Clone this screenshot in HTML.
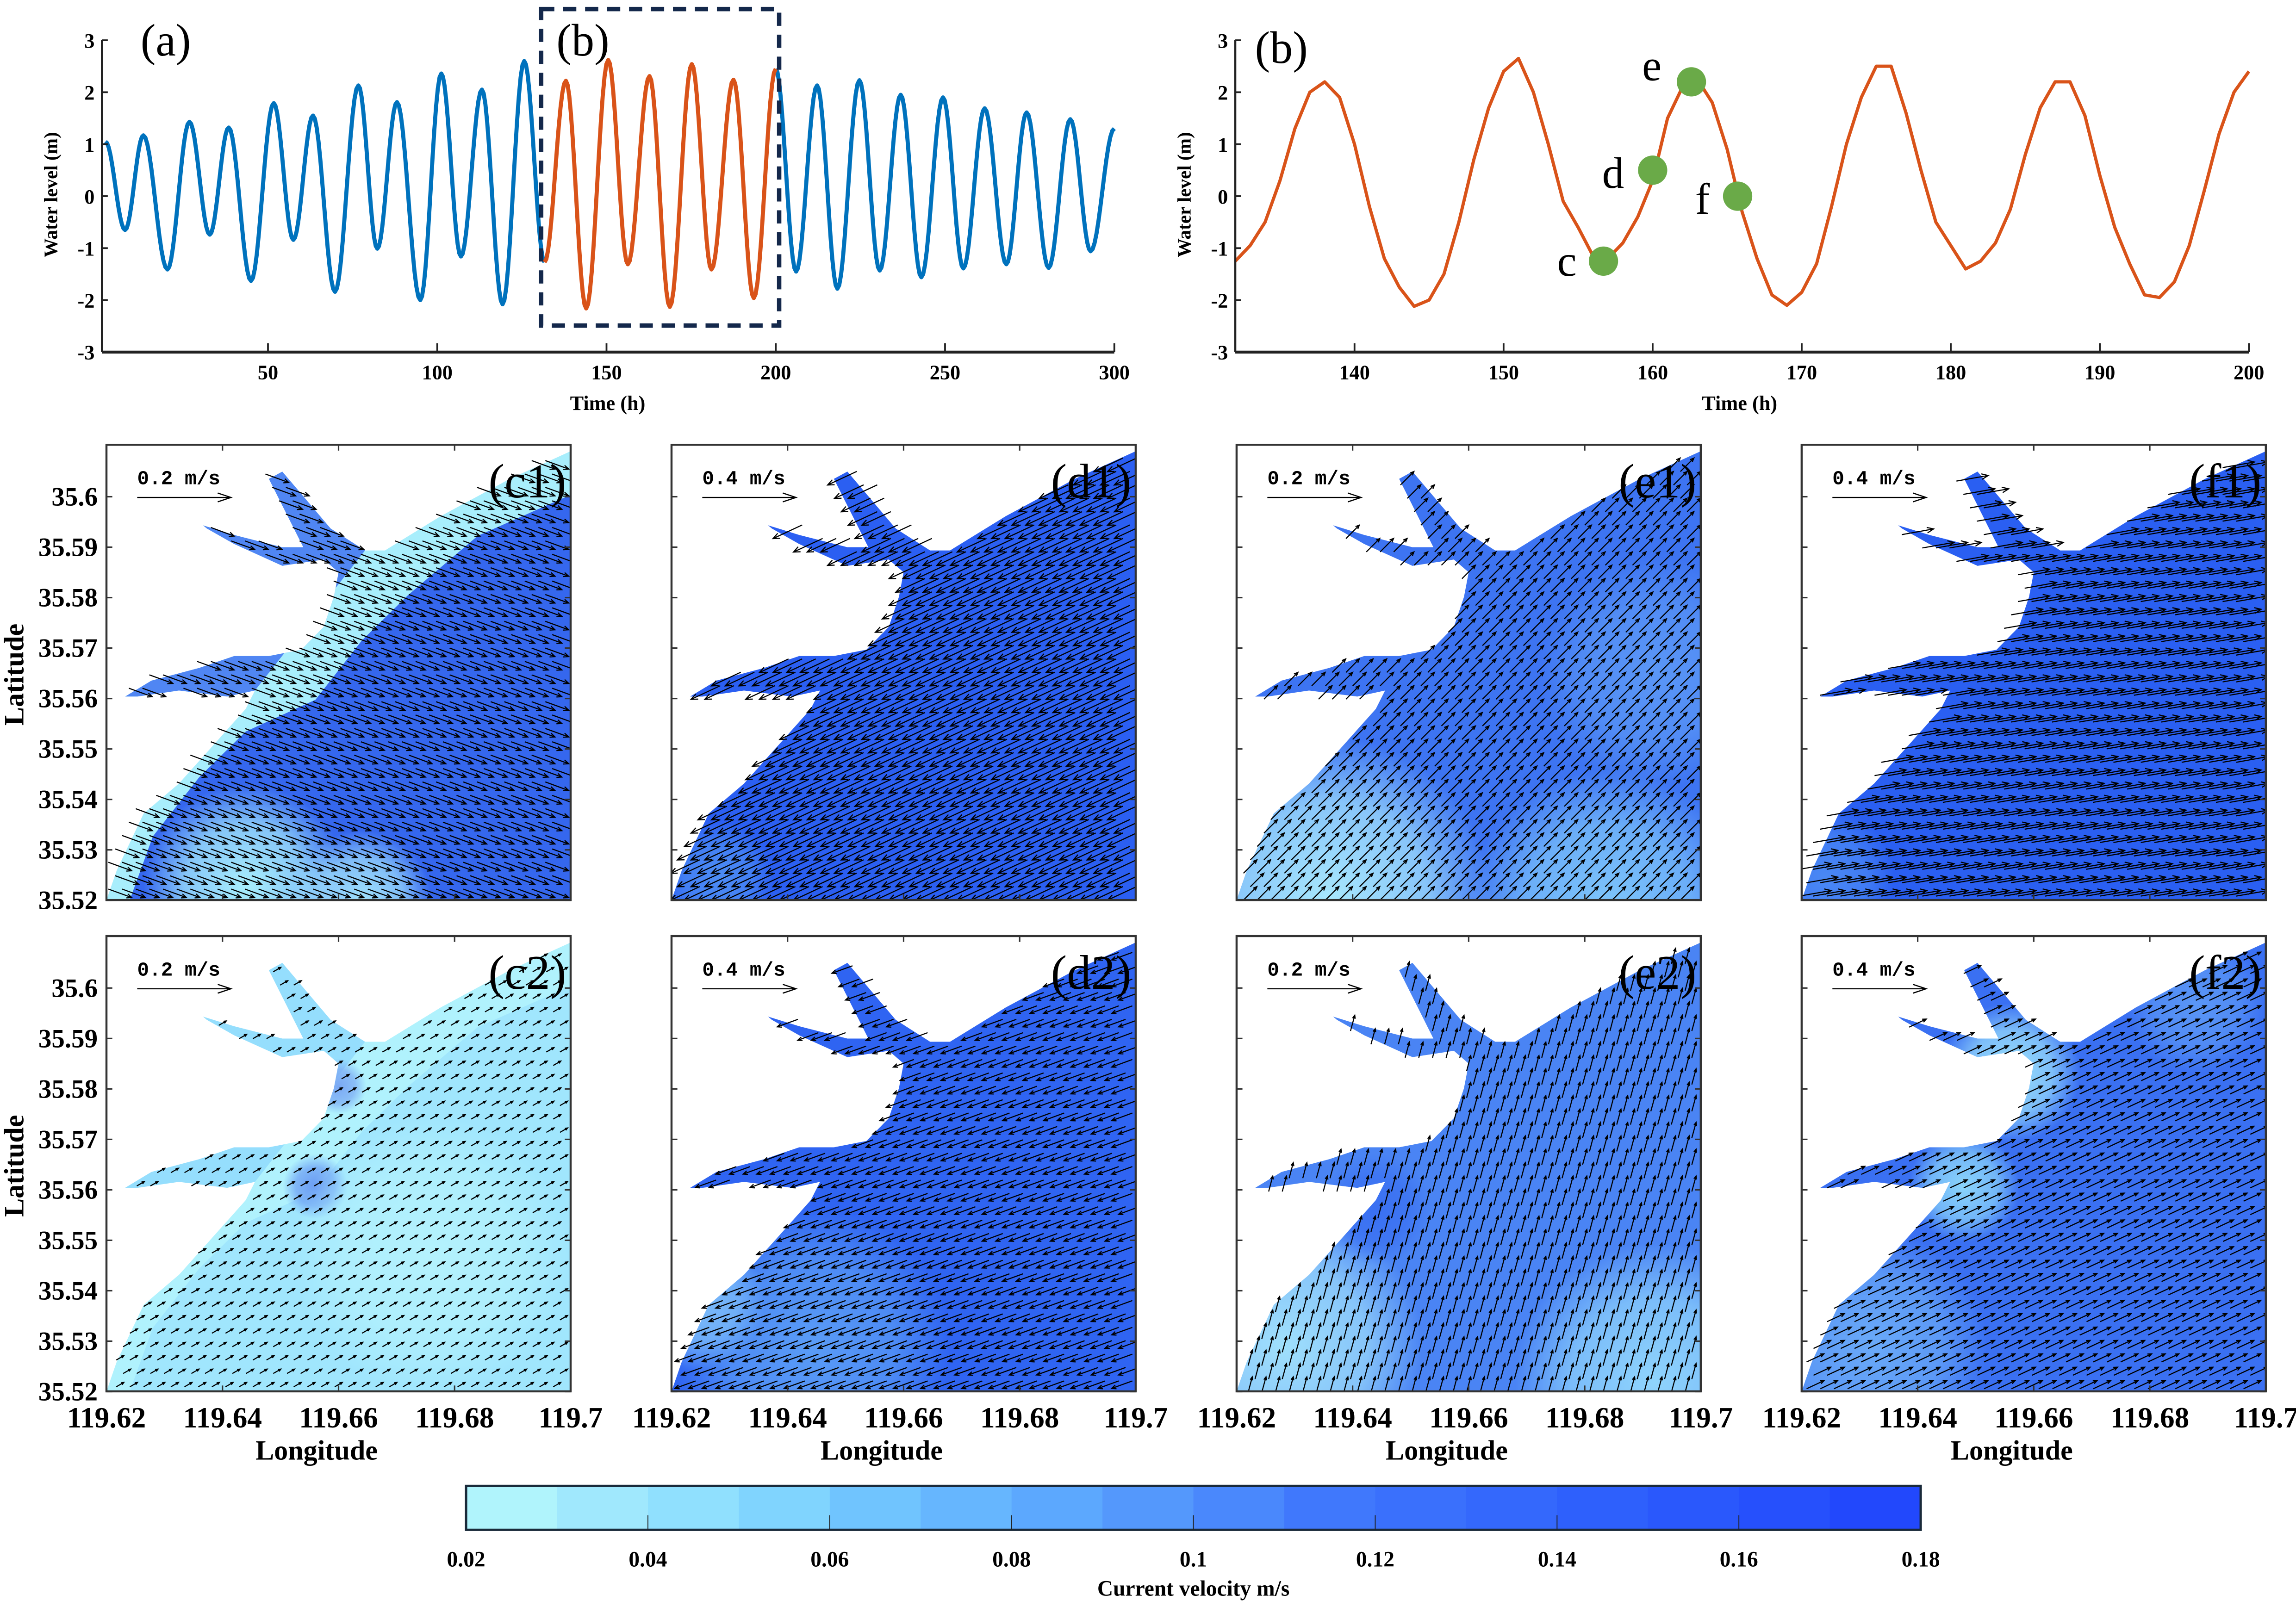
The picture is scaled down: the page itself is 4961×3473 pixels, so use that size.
<!DOCTYPE html>
<html><head><meta charset="utf-8">
<style>
html,body{margin:0;padding:0;background:#fff;}
svg{display:block;}
.tk{font-family:"Liberation Serif",serif;font-weight:bold;}
.pl{font-family:"Liberation Serif",serif;}
.mono{font-family:"Liberation Mono",monospace;font-weight:bold;}
</style></head>
<body>
<svg id="fig" xmlns="http://www.w3.org/2000/svg" width="4961" height="3473" viewBox="0 0 1568 1097.7">
<rect x="0" y="0" width="1568" height="1097.7" fill="#fff"/>
<defs id="defs"></defs>
<g id="panelA"></g>
<g id="panelB"></g>
<g id="maps"></g>
<g id="cbar"></g>
</svg>
<script>
const NS="http://www.w3.org/2000/svg";
// ---------- data ----------
const extT=[2,7.8,13.2,20.3,26.8,32.8,38.4,45,51.7,57.5,63.3,69.8,76.7,82.3,88.1,95,101.2,107,113.2,119.3,125.7,131.7,138,144,150.5,156.3,162.7,168.7,175.2,181,187.5,193.5,200,206,212.2,218.2,224.7,230.7,236.9,243,249.4,255.4,261.7,268.1,274.1,280.6,287,293,300];
const extV=[1.05,-0.65,1.17,-1.41,1.43,-0.74,1.32,-1.63,1.79,-0.84,1.55,-1.84,2.13,-1.01,1.81,-2.0,2.36,-1.16,2.05,-2.08,2.6,-1.27,2.22,-2.16,2.62,-1.31,2.31,-2.13,2.54,-1.41,2.24,-1.96,2.45,-1.45,2.13,-1.78,2.23,-1.43,1.95,-1.56,1.9,-1.39,1.69,-1.31,1.61,-1.38,1.48,-1.06,1.3];
const bHours=[132,133,134,135,136,137,138,139,140,141,142,143,144,145,146,147,148,149,150,151,152,153,154,155,156,157,158,159,160,161,162,163,164,165,166,167,168,169,170,171,172,173,174,175,176,177,178,179,180,181,182,183,184,185,186,187,188,189,190,191,192,193,194,195,196,197,198,199,200];
const bLevel=[-1.25,-0.95,-0.5,0.3,1.3,2.0,2.2,1.9,1.0,-0.2,-1.2,-1.75,-2.12,-2.0,-1.5,-0.5,0.7,1.7,2.4,2.65,2.0,1.0,-0.1,-0.6,-1.15,-1.2,-0.9,-0.4,0.3,1.5,2.1,2.25,1.8,0.9,-0.3,-1.2,-1.9,-2.1,-1.85,-1.3,-0.2,1.0,1.9,2.5,2.5,1.6,0.5,-0.5,-0.95,-1.4,-1.25,-0.9,-0.25,0.8,1.7,2.2,2.2,1.55,0.4,-0.6,-1.3,-1.9,-1.95,-1.65,-0.95,0.1,1.2,2.0,2.4];
const markNames=["c","d","e","f"];
const markT=[156.7,160,162.6,165.7];
const markV=[-1.25,0.5,2.2,0.0];
const aTicksX=[50,100,150,200,250,300];
const bTicksX=[140,150,160,170,180,190,200];
const yTicks=[-3,-2,-1,0,1,2,3];
const latTicks=["35.6","35.59","35.58","35.57","35.56","35.55","35.54","35.53","35.52"];
const lonTicks=["119.62","119.64","119.66","119.68","119.7"];
const cbColors=["#b0f4fc","#a0e8fd","#90e0fe","#80d4fe","#70c4fe","#66b6fe","#5ca8fe","#5498fc","#4a88fc","#4078fc","#3a70fc","#3468fc","#2e60fc","#2a58fc","#2650fc","#2248fc"];
const cbTicks=["0.02","0.04","0.06","0.08","0.1","0.12","0.14","0.16","0.18"];
const panelNames=["c1","d1","e1","f1","c2","d2","e2","f2"];
const scaleTxt=["0.2 m/s","0.4 m/s","0.2 m/s","0.4 m/s","0.2 m/s","0.4 m/s","0.2 m/s","0.4 m/s"];
const flowAngle=[-20,205,45,10,30,200,75,25];
const flowLen=[17,22,13,22,6,15,11,13];
const baseColor=["#3567ee","#2b5ff2","#3d74f2","#2a5ff2","#a0e6fd","#2f64f2","#4a84f4","#3a70f2"];

// ---------- helpers ----------
function el(tag,attrs,parent,text){const e=document.createElementNS(NS,tag);for(const k in attrs)e.setAttribute(k,attrs[k]);if(text!==undefined)e.textContent=text;parent.appendChild(e);return e;}

// ---------- panel (a) ----------
const A=document.getElementById('panelA');
const aX=t=>67.4+t*2.312, wY=v=>134-35.5*v;
function smoothPath(T,V,i0,i1,X){let d="";for(let i=i0;i<i1;i++){for(let k=0;k<=12;k++){const s=k/12;const t=T[i]+(T[i+1]-T[i])*s;const v=V[i]+(V[i+1]-V[i])*(1-Math.cos(Math.PI*s))/2;d+=(d?"L":"M")+X(t).toFixed(2)+","+wY(v).toFixed(2);}}return d;}
const iO0=extT.indexOf(131.7), iO1=extT.indexOf(200);
let p=el('path',{d:smoothPath(extT,extV,0,iO0,aX),fill:"none",stroke:"#0072bd","stroke-width":2.8,"stroke-linejoin":"round"},A);

p=el('path',{d:smoothPath(extT,extV,iO1,extT.length-1,aX),fill:"none",stroke:"#0072bd","stroke-width":2.8,"stroke-linejoin":"round"},A);

p=el('path',{d:smoothPath(extT,extV,iO0,iO1,aX),fill:"none",stroke:"#d95319","stroke-width":2.8,"stroke-linejoin":"round"},A);

p=el('rect',{x:aX(130.7),y:wY(3.6),width:aX(201)-aX(130.7),height:wY(-2.49)-wY(3.6),fill:"none",stroke:"#14284b","stroke-width":3,"stroke-dasharray":"9,6"},A);

function axesTS(G,x0,x1,ticks,X,labX,labY){
  el('line',{x1:x0,y1:wY(3),x2:x0,y2:wY(-3),stroke:"#222","stroke-width":1.4},G);
  el('line',{x1:x0,y1:wY(-3),x2:x1,y2:wY(-3),stroke:"#222","stroke-width":2},G);
  yTicks.forEach(v=>{el('line',{x1:x0,y1:wY(v),x2:x0+4,y2:wY(v),stroke:"#222","stroke-width":1.2},G);
    const t=el('text',{x:x0-5,y:wY(v)+5,"text-anchor":"end","font-size":14,class:"tk"},G,String(v));
    });
  ticks.forEach(v=>{el('line',{x1:X(v),y1:wY(-3),x2:X(v),y2:wY(-3)-6,stroke:"#222","stroke-width":1.2},G);
    const t=el('text',{x:X(v),y:259,"text-anchor":"middle","font-size":14,class:"tk"},G,String(v));
    });
  let t=el('text',{x:labX,y:280,"text-anchor":"middle","font-size":14,class:"tk"},G,"Time (h)");
  
  t=el('text',{x:0,y:0,transform:`translate(${labY},133) rotate(-90)`,"text-anchor":"middle","font-size":13,class:"tk"},G,"Water level (m)");
  
}
axesTS(A,69.6,761,aTicksX,aX,415,39);
let lab=el('text',{x:96,y:38,"font-size":31,class:"pl"},A,"(a)");
lab=el('text',{x:380,y:38,"font-size":31,class:"pl"},A,"(b)");

// ---------- panel (b) ----------
const B=document.getElementById('panelB');
const bX=t=>843.6+(t-132)*10.18;
let d="";bHours.forEach((t,i)=>{d+=(i?"L":"M")+bX(t).toFixed(2)+","+wY(bLevel[i]).toFixed(2);});
p=el('path',{d:d,fill:"none",stroke:"#d95319","stroke-width":2.2,"stroke-linejoin":"round"},B);

axesTS(B,843.6,1536,bTicksX,bX,1188,813);
const labOff=[[-25,10],[-27,12],[-27,-1],[-24,12]];
markNames.forEach((n,i)=>{
  const c=el('circle',{cx:bX(markT[i]),cy:wY(markV[i]),r:10,fill:"#6aaa48"},B);
  
  const t=el('text',{x:bX(markT[i])+labOff[i][0],y:wY(markV[i])+labOff[i][1],"font-size":30,class:"pl","text-anchor":"middle"},B,n);
  
});
lab=el('text',{x:857,y:43,"font-size":31,class:"pl"},B,"(b)");

// ---------- maps ----------
const M=document.getElementById('maps'), DEFS=document.getElementById('defs');
const colL=[72.7,458.6,844.5,1230.4], rowT=[303.8,639.4], PW=317, PH=311;
const shape=[[0,1],[0.022,0.935],[0.08,0.81],[0.156,0.744],[0.23,0.66],[0.30,0.58],[0.32,0.54],[0.26,0.553],[0.156,0.54],[0.067,0.553],[0.04,0.553],[0.097,0.518],[0.2,0.49],[0.275,0.464],[0.35,0.464],[0.42,0.45],[0.468,0.40],[0.49,0.334],[0.5,0.28],[0.468,0.252],[0.379,0.266],[0.275,0.218],[0.216,0.184],[0.208,0.177],[0.275,0.198],[0.379,0.225],[0.424,0.225],[0.35,0.075],[0.379,0.059],[0.483,0.184],[0.557,0.232],[0.60,0.232],[0.72,0.157],[0.869,0.075],[1,0.014],[1,1]];
const inner=[[0.05,1],[0.1,0.86],[0.2,0.73],[0.3,0.63],[0.45,0.56],[0.55,0.43],[0.65,0.33],[0.8,0.2],[1,0.11],[1,1]];
const patches=[
 [[0.3,0.97,0.22,"#a8eefc"],[0.55,1.0,0.15,"#9fe0fc"]],
 [[0.1,0.95,0.12,"#4c8cf4"]],
 [[0.2,1.0,0.35,"#a8e8fd"],[0.8,1.02,0.3,"#7ec6fb"],[0.9,0.5,0.25,"#5a96f6"]],
 [[0.05,0.95,0.15,"#4a88f4"]],
 [[0.45,0.55,0.07,"#6a9cf4"],[0.5,0.33,0.06,"#7aa8f4"],[0.7,0.7,0.3,"#b4f2fd"]],
 [[0.3,0.9,0.3,"#5a9cf6"],[0.05,0.8,0.15,"#7fc0fa"]],
 [[0.1,0.9,0.3,"#a0e0fc"],[0.9,0.98,0.3,"#8fd4fc"],[0.3,0.6,0.12,"#3a70f2"]],
 [[0.45,0.3,0.15,"#9ae0fc"],[0.35,0.55,0.12,"#8ad4fb"],[0.15,0.9,0.25,"#6aaaf8"],[0.85,0.15,0.15,"#5a96f6"]]
];
function inPoly(pt,poly){let c=false;for(let i=0,j=poly.length-1;i<poly.length;j=i++){const a=poly[i],b=poly[j];if(((a[1]>pt[1])!=(b[1]>pt[1]))&&(pt[0]<(b[0]-a[0])*(pt[1]-a[1])/(b[1]-a[1])+a[0]))c=!c;}return c;}
let gid=0;
panelNames.forEach((name,i)=>{
  const L=colL[i%4], T=rowT[Math.floor(i/4)];
  const G=el('g',{},M);
  
  
  const pts=shape.map(q=>(L+q[0]*PW).toFixed(1)+","+(T+q[1]*PH).toFixed(1)).join(" ");
  const cp=el('clipPath',{id:'clip'+i},DEFS);
  el('polygon',{points:pts},cp);
  const cpb=el('clipPath',{id:'box'+i},DEFS);
  el('rect',{x:L,y:T,width:PW,height:PH},cpb);
  const W=el('g',{"clip-path":`url(#clip${i})`},G);
  const isC=(name[0]==='c');
  el('rect',{x:L,y:T,width:PW,height:PH,fill:isC?(i<4?"#a8eefc":"#b0f2fd"):baseColor[i]},W);
  if(isC){const ip=inner.map(q=>(L+q[0]*PW).toFixed(1)+","+(T+q[1]*PH).toFixed(1)).join(" ");
    el('polygon',{points:ip,fill:baseColor[i]},W);
    el('polygon',{points:shape.slice(6,31).map(q=>(L+q[0]*PW).toFixed(1)+","+(T+q[1]*PH).toFixed(1)).join(" "),fill:i<4?"#3a6cf0":"#8fd8fc",opacity:0.8},W);}
  patches[i].forEach(pa=>{
    const id='rg'+(gid++);
    const rg=el('radialGradient',{id:id},DEFS);
    el('stop',{offset:"0","stop-color":pa[3],"stop-opacity":1},rg);
    el('stop',{offset:"0.6","stop-color":pa[3],"stop-opacity":0.7},rg);
    el('stop',{offset:"1","stop-color":pa[3],"stop-opacity":0},rg);
    el('circle',{cx:L+pa[0]*PW,cy:T+pa[1]*PH,r:pa[2]*PW,fill:`url(#${id})`},W);
  });
  const AG=el('g',{stroke:"#000","stroke-width":0.75,fill:"none","clip-path":`url(#box${i})`},G);
  
  
  const n=34, ang=flowAngle[i]*Math.PI/180, len=flowLen[i];
  const dx=Math.cos(ang)*len, dy=-Math.sin(ang)*len;
  let ad="";
  for(let r=0;r<n;r++)for(let c=0;c<n;c++){
    const u=(c+0.5)/n+(r%2?0.5/n:0), v=(r+0.5)/n;
    if(!inPoly([u,v],shape))continue;
    const x0=L+u*PW-dx/2, y0=T+v*PH-dy/2, x1=x0+dx, y1=y0+dy;
    const h=Math.max(2,len*0.22), a1=ang+Math.PI-0.4, a2=ang+Math.PI+0.4;
    ad+=`M${x0.toFixed(1)},${y0.toFixed(1)}L${x1.toFixed(1)},${y1.toFixed(1)}M${(x1+Math.cos(a1)*h).toFixed(1)},${(y1-Math.sin(a1)*h).toFixed(1)}L${x1.toFixed(1)},${y1.toFixed(1)}L${(x1+Math.cos(a2)*h).toFixed(1)},${(y1-Math.sin(a2)*h).toFixed(1)}`;
  }
  el('path',{d:ad},AG);
  el('rect',{x:L,y:T,width:PW,height:PH,fill:"none",stroke:"#333","stroke-width":1.4},G);
  latTicks.forEach((s,k)=>{const y=T+35.5+34.46*k;
    el('line',{x1:L,y1:y,x2:L+4,y2:y,stroke:"#333","stroke-width":1},G);
    el('line',{x1:L+PW,y1:y,x2:L+PW-4,y2:y,stroke:"#333","stroke-width":1},G);
    if(i%4===0){const t=el('text',{x:L-6,y:y+6,"text-anchor":"end","font-size":18,class:"tk"},G,s);
      }
  });
  lonTicks.forEach((s,k)=>{const x=L+79.25*k;
    el('line',{x1:x,y1:T+PH,x2:x,y2:T+PH-4,stroke:"#333","stroke-width":1},G);
    el('line',{x1:x,y1:T,x2:x,y2:T+4,stroke:"#333","stroke-width":1},G);
    if(i>=4){const t=el('text',{x:x,y:975,"text-anchor":"middle","font-size":20,class:"tk"},G,s);
      }
  });
  if(i>=4){const t=el('text',{x:L+PW/2-15,y:997,"text-anchor":"middle","font-size":19,class:"tk"},G,"Longitude");
    }
  if(i%4===0){const t=el('text',{x:0,y:0,transform:`translate(16,${T+157}) rotate(-90)`,"text-anchor":"middle","font-size":19,class:"tk"},G,"Latitude");
    }
  const st=el('text',{x:L+21,y:T+27,"font-size":13.5,class:"mono"},G,scaleTxt[i]);
  
  el('path',{d:`M${L+21},${T+36}H${L+85}M${L+76},${T+33}L${L+85},${T+36}L${L+76},${T+39}`,stroke:"#000","stroke-width":0.8,fill:"none"},G);
  const pl=el('text',{x:L+PW-3,y:T+36,"text-anchor":"end","font-size":33,class:"pl"},G,"("+name+")");
  
});

// ---------- colorbar ----------
const C=document.getElementById('cbar');
const cx0=318.3,cx1=1311.7,cy0=1015,cy1=1045,bw=(cx1-cx0)/cbColors.length;
cbColors.forEach((col,k)=>{const r=el('rect',{x:cx0+k*bw,y:cy0,width:bw+0.5,height:cy1-cy0,fill:col},C);
  });
el('rect',{x:cx0,y:cy0,width:cx1-cx0,height:cy1-cy0,fill:"none",stroke:"#1a2a3a","stroke-width":1.6},C);
cbTicks.forEach((s,k)=>{const x=cx0+k*(cx1-cx0)/8;
  if(k>0&&k<8)el('line',{x1:x,y1:cy1,x2:x,y2:cy1-10,stroke:"#222","stroke-width":0.6},C);
  const t=el('text',{x:x,y:1070,"text-anchor":"middle","font-size":15,class:"tk"},C,s);
  });
const ct=el('text',{x:(cx0+cx1)/2,y:1090,"text-anchor":"middle","font-size":15,class:"tk"},C,"Current velocity m/s");

</script>
</body></html>
